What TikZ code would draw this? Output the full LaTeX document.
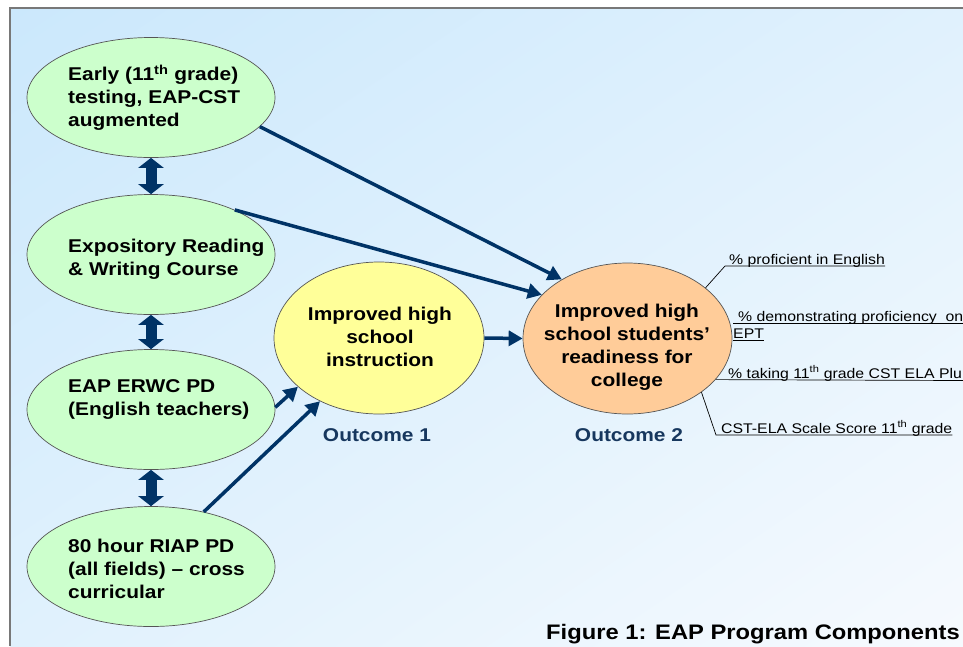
\documentclass[tikz,border=0pt]{standalone}
\usepackage{fontspec}
\setmainfont{Liberation Sans}
\newfontfamily\wide[FakeStretch=1.13]{Liberation Sans}
\usetikzlibrary{shapes.geometric,arrows.meta,shadings}
\definecolor{navy}{RGB}{0,51,102}
\definecolor{outblue}{RGB}{23,55,94}
\definecolor{edgegray}{RGB}{85,85,85}
\definecolor{framegray}{RGB}{120,120,120}
\definecolor{greenfill}{RGB}{204,255,204}
\definecolor{yelfill}{RGB}{255,255,153}
\definecolor{orgfill}{RGB}{255,204,153}
\definecolor{bgA}{RGB}{203,232,252}
\definecolor{bgB}{RGB}{224,241,253}
\definecolor{bgC}{RGB}{246,250,254}
\begin{document}
\begin{tikzpicture}[x=1pt,y=-1pt,
  every node/.style={inner sep=0pt},
  bubble/.style={ellipse, draw=edgegray, line width=0.7pt},
  greenell/.style={bubble, fill=greenfill, minimum width=248pt, minimum height=120pt},
  yelell/.style={bubble, fill=yelfill, minimum width=210pt, minimum height=152pt},
  orgell/.style={bubble, fill=orgfill, minimum width=209pt, minimum height=151pt},
  gtxt/.style={font=\wide\bfseries\fontsize{18.5}{23}\selectfont, align=left, anchor=west},
  ctxt/.style={font=\wide\bfseries\fontsize{18.5}{23}\selectfont, align=center},
  otxt/.style={font=\wide\bfseries\fontsize{18.5}{22}\selectfont, text=outblue},
  rtxt/.style={font=\wide\fontsize{14}{17}\selectfont, anchor=base west},
  captxt/.style={font=\wide\bfseries\fontsize{21}{25}\selectfont, anchor=base east},
  dblarrow/.style={draw=navy, line width=11pt,
    {Triangle[length=10pt 0 0,width=25pt 0 0]}-{Triangle[length=10pt 0 0,width=25pt 0 0]}},
  conn/.style={draw=navy, line width=3.5pt, -{Triangle[length=14pt 0 0,width=15pt 0 0]}},
  lead/.style={draw=black, line width=0.7pt}
]
\useasboundingbox (0,0) rectangle (963,646);
% background and frame
\shade[upper left=bgA, upper right=bgB, lower left=bgB, lower right=bgC] (10,8) rectangle (963,646);
\draw[framegray, line width=1.2pt] (10,646) -- (10,8) -- (963,8);

% ellipses
\node[greenell] (early) at (151,97.5) {};
\node[greenell] (expo) at (151,254.5) {};
\node[greenell] (erwc) at (151,409.5) {};
\node[greenell] (riap) at (151,566.5) {};
\node[yelell] (instr) at (379,338) {};
\node[orgell] (ready) at (627.5,338.5) {};

% texts
\node[gtxt] (tearly) at (68,98) {Early (11\textsuperscript{th} grade)\\testing, EAP-CST\\augmented};
\node[gtxt] (texpo) at (68,259) {Expository Reading\\\& Writing Course};
\node[gtxt] (terwc) at (68,399) {EAP ERWC PD\\(English teachers)};
\node[gtxt] (triap) at (68,569) {80 hour RIAP PD\\(all fields) – cross\\curricular};
\node[ctxt] (tinstr) at (380,337) {Improved high\\school\\instruction};
\node[ctxt] (tready) at (627,347) {Improved high\\school students’\\readiness for\\college};
\node[otxt] (out1) at (377,435) {Outcome 1};
\node[otxt] (out2) at (629,435) {Outcome 2};

% double arrows
\draw[dblarrow] (early.south) -- (expo.north);
\draw[dblarrow] (expo.south) -- (erwc.north);
\draw[dblarrow] (erwc.south) -- (riap.north);

% connectors
\draw[conn] (early.-15.7) -- (ready.138.2);
\draw[conn] (expo.28.7) -- (ready.153.6);
\draw[conn] (instr.east) -- (ready.west);
\draw[conn] (erwc.1.2) -- (instr.211.2);
\draw[conn] (riap.46.1) -- (instr.227.9);

% right labels
\node[rtxt] (r1) at (729,264) {\% proficient in English};
\coordinate (u1) at (725,266);
\draw[lead] (ready.33.4) -- (u1) -- (u1 -| r1.east);

\node[rtxt] (r2) at (738,321) {\% demonstrating proficiency\ \ on};
\node[rtxt] (r2b) at (733,338.5) {EPT};
\coordinate (u2) at (733,323);
\coordinate (u2e) at (963,323);
\coordinate (u2b) at (733,340);
\draw[lead] (u2) -- (u2e);
\draw[lead] (u2b) -- (u2b -| r2b.east);

\node[rtxt] (r3) at (728,378) {\% taking 11\textsuperscript{th} grade CST ELA Plu};
\coordinate (u3) at (963,380.5);
\draw[lead] (ready.-25.9) -- (u3);

\node[rtxt] (r4) at (721,433) {CST-ELA Scale Score 11\textsuperscript{th} grade};
\coordinate (u4) at (716,435);
\draw[lead] (ready.-36.9) -- (u4) -- (u4 -| r4.east);

% caption
\node[captxt] (cap) at (960,639) {Figure 1: EAP Program Components};
\end{tikzpicture}
\end{document}
